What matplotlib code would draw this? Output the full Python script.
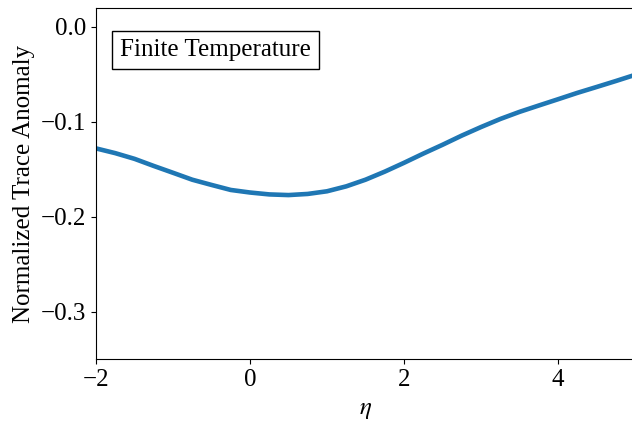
import numpy as np
import matplotlib.pyplot as plt

# valeurs
eta = [-2.0, -1.75, -1.5, -1.25, -1.0, -0.75, -0.5, -0.25, 0.0, 0.25, 0.5, 0.75,
       1.0, 1.25, 1.5, 1.75, 2.0, 2.25, 2.5, 2.75, 3.0, 3.25, 3.5, 3.75,
       4.0, 4.25, 4.5, 4.75, 5.0]
anomaly = [-0.128, -0.133, -0.139, -0.1465, -0.1537, -0.161, -0.1665, -0.1718,
           -0.1745, -0.1765, -0.1772, -0.176, -0.1732, -0.168, -0.161, -0.1525,
           -0.1432, -0.1335, -0.1242, -0.1145, -0.1055, -0.097, -0.0895, -0.0828,
           -0.0762, -0.0695, -0.0633, -0.057, -0.0505]
xticks = [-2, 0, 2, 4]
yticks = [0.0, -0.1, -0.2, -0.3]

plt.rcParams['font.family'] = ['Liberation Serif', 'DejaVu Serif']
plt.rcParams['mathtext.fontset'] = 'stix'

fig = plt.figure(figsize=(6.32, 4.23), dpi=100)
ax = fig.add_axes([96/632, 1 - 359/423, (635 - 96)/632, 351/423])

ax.plot(eta, anomaly, '-', linewidth=3.3, color='#1f77b4')

ax.set_xlim(-2, 5)
ax.set_ylim(-0.35, 0.02)
ax.set_xticks(xticks)
ax.set_yticks(yticks)
ax.tick_params(labelsize=18)

ax.set_xlabel(r'$\eta$', fontsize=18, labelpad=6)
ax.set_ylabel('Normalized Trace Anomaly', fontsize=18)

ax.text(0.0445, 0.88, 'Finite Temperature', transform=ax.transAxes, fontsize=18,
        va='center', ha='left',
        bbox=dict(boxstyle='square,pad=0.32', fc='white', ec='black'))

fig.savefig('out.png', dpi=100)
